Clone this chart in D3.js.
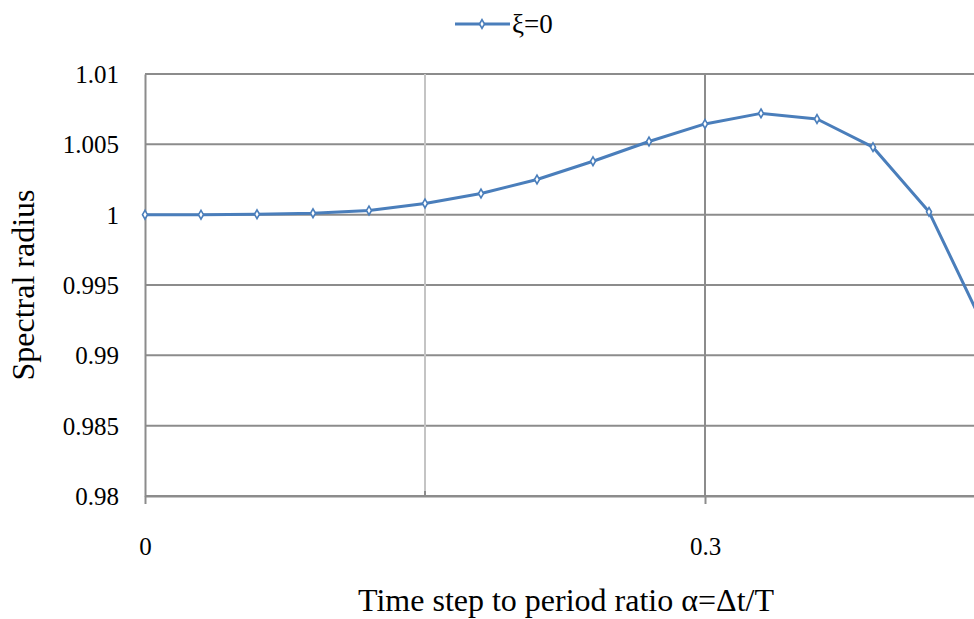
<!DOCTYPE html>
<html>
<head>
<meta charset="utf-8">
<script src="https://cdn.jsdelivr.net/npm/d3@7"></script>
<style>
  html, body { margin: 0; padding: 0; background: #fff; overflow: hidden; }
  svg { display: block; }
  svg text { font-family: "Liberation Serif", "Times New Roman", serif; fill: #000; }
</style>
</head>
<body>
<svg id="chart" width="974" height="619"></svg>
<script>
// Spectral radius against time step / period ratio (undamped case)
const alphaValues = [0, 0.03, 0.06, 0.09, 0.12, 0.15, 0.18, 0.21, 0.24, 0.27, 0.30, 0.33, 0.36, 0.39, 0.42, 0.45];
const spectralRadius = [1.0000, 1.0000, 1.00003, 1.0001, 1.0003, 1.0008, 1.0015, 1.0025, 1.0038, 1.0052, 1.00645, 1.0072, 1.0068, 1.0048, 1.0002, 0.9919];
const seriesName = "ξ=0";
const xMajorTicks = [0, 0.3];
const xMinorTicks = [0.15];
const yTicks = [0.98, 0.985, 0.99, 0.995, 1, 1.005, 1.01];
const xTitle = "Time step to period ratio α=Δt/T";
const yTitle = "Spectral radius";

const serif = '"Liberation Serif", "Times New Roman", serif';
const svg = d3.select("#chart");
const lineColor = "#4a7ebb";
const gridColor = "#8c8c8c";

const x = d3.scaleLinear().domain([0, 0.45]).range([145, 985]);
const y = d3.scaleLinear().domain([0.98, 1.01]).range([496, 74]);

// horizontal gridlines
svg.append("g").selectAll("line").data(yTicks).join("line")
  .attr("x1", x(0)).attr("x2", x(0.45))
  .attr("y1", d => y(d)).attr("y2", d => y(d))
  .attr("stroke", gridColor).attr("stroke-width", 2);

// minor vertical gridline
svg.append("g").selectAll("line").data(xMinorTicks).join("line")
  .attr("x1", d => x(d)).attr("x2", d => x(d))
  .attr("y1", y(1.01)).attr("y2", y(0.98))
  .attr("stroke", "#c4c4c4").attr("stroke-width", 2);

// major vertical gridlines
svg.append("g").selectAll("line").data(xMajorTicks.filter(d => d > 0)).join("line")
  .attr("x1", d => x(d)).attr("x2", d => x(d))
  .attr("y1", y(1.01)).attr("y2", y(0.98))
  .attr("stroke", gridColor).attr("stroke-width", 2);

// x axis
const xAxis = d3.axisBottom(x).tickValues(xMajorTicks).tickSize(8).tickSizeOuter(0)
  .tickFormat(d => d === 0 ? "0" : d3.format(".1f")(d));
const gx = svg.append("g").attr("transform", `translate(0,${y(0.98)})`).call(xAxis)
  .attr("font-family", null).attr("font-size", null);
gx.select(".domain").attr("stroke", gridColor).attr("stroke-width", 2);
gx.selectAll(".tick line").attr("stroke", gridColor).attr("stroke-width", 2);
gx.selectAll(".tick text").attr("y", 59).attr("dy", 0)
  .style("font-size", "25px").style("font-family", serif).attr("fill", "#000");

// minor tick marks on x axis
svg.append("g").selectAll("line").data(xMinorTicks).join("line")
  .attr("x1", d => x(d)).attr("x2", d => x(d))
  .attr("y1", y(0.98) - 5).attr("y2", y(0.98))
  .attr("stroke", gridColor).attr("stroke-width", 2);

// y axis
const yAxis = d3.axisLeft(y).tickValues(yTicks).tickSize(0).tickPadding(26)
  .tickFormat(d => d3.format("")(+d.toFixed(3)));
const gy = svg.append("g").attr("transform", `translate(${x(0)},0)`).call(yAxis)
  .attr("font-family", null).attr("font-size", null);
gy.select(".domain").attr("stroke", gridColor).attr("stroke-width", 2);
gy.selectAll(".tick text").attr("dy", "0.34em")
  .style("font-size", "25px").style("font-family", serif).attr("fill", "#000");

// series line
const line = d3.line().x((d, i) => x(alphaValues[i])).y(d => y(d));
svg.append("path").datum(spectralRadius)
  .attr("d", line).attr("fill", "none")
  .attr("stroke", lineColor).attr("stroke-width", 3).attr("stroke-linejoin", "round");

// diamond markers
const diamond = d3.symbol().type(d3.symbolDiamond).size(22);
svg.append("g").selectAll("path").data(spectralRadius).join("path")
  .attr("d", diamond)
  .attr("transform", (d, i) => `translate(${x(alphaValues[i])},${y(d)})`)
  .attr("fill", "#fff").attr("stroke", lineColor).attr("stroke-width", 1.6);

// legend
const lg = svg.append("g");
lg.append("line").attr("x1", 455).attr("x2", 510).attr("y1", 24).attr("y2", 24)
  .attr("stroke", lineColor).attr("stroke-width", 3);
lg.append("path").attr("d", diamond).attr("transform", "translate(482,24)")
  .attr("fill", "#fff").attr("stroke", lineColor).attr("stroke-width", 1.6);
lg.append("text").attr("x", 512).attr("y", 33).style("font-size", "27px").text(seriesName);

// axis titles
svg.append("text").attr("x", 566).attr("y", 611).attr("text-anchor", "middle")
  .style("font-size", "32px").text(xTitle);
svg.append("text").attr("transform", "translate(34,285) rotate(-90)").attr("text-anchor", "middle")
  .style("font-size", "32px").text(yTitle);
</script>
</body>
</html>
